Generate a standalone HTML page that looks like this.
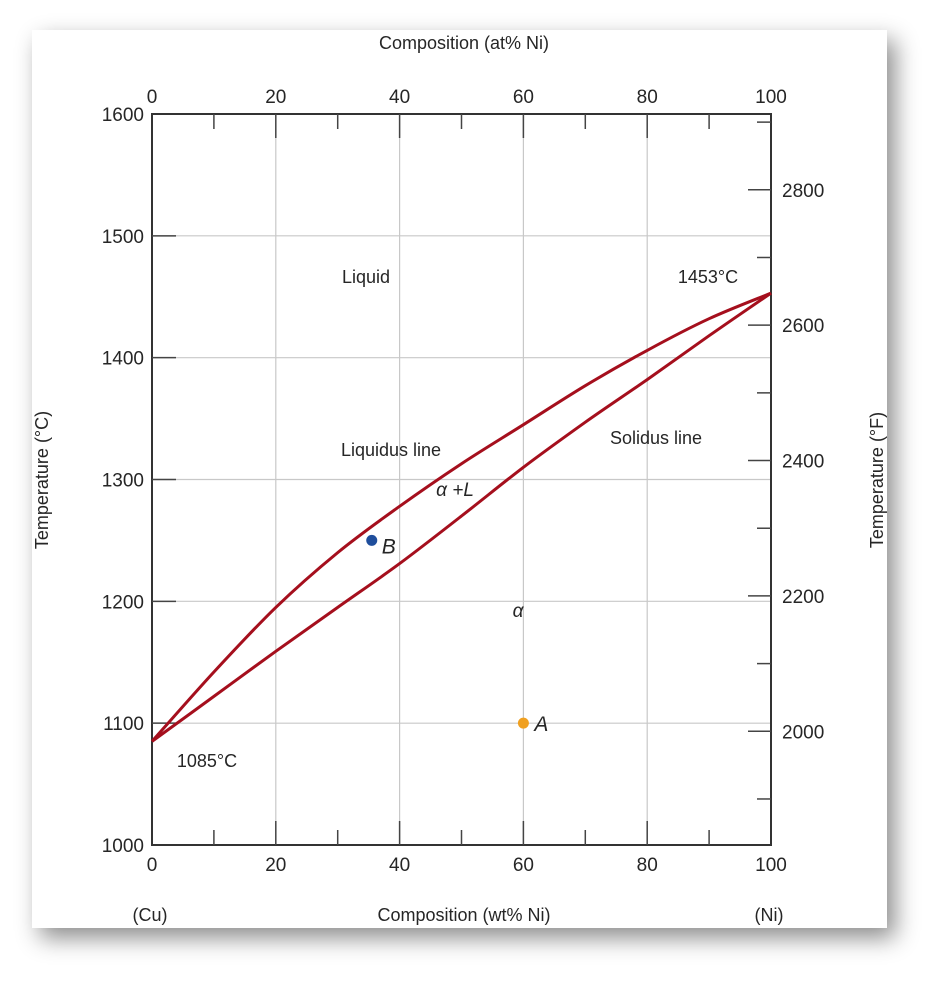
<!DOCTYPE html>
<html><head><meta charset="utf-8">
<style>
html,body{margin:0;padding:0;background:#fff;width:952px;height:994px;overflow:hidden}
#card{position:absolute;left:32px;top:30px;width:855px;height:898px;background:#fff;box-shadow:8px 10px 22px rgba(0,0,0,0.45)}
svg{position:absolute;left:0;top:0}
text{font-family:"Liberation Sans",sans-serif;fill:#262626}
</style></head><body>
<div id="card"></div>
<svg id="chart" width="952" height="994"></svg>
<script>
const xTicks=[0,20,40,60,80,100];
const xMinor=[10,30,50,70,90];
const yTicks=[1000,1100,1200,1300,1400,1500,1600];
const fTicks=[2000,2200,2400,2600,2800];
const fMinor=[1900,2100,2300,2500,2700,2900];
const liqX=[0,10,20,30,40,50,60,70,80,90,100];
const liqT=[1085,1142,1195,1240,1278,1313,1345,1377,1406,1432,1453];
const solX=[0,10,20,30,40,50,60,70,80,90,100];
const solT=[1085,1122,1159,1195,1231,1270,1310,1347,1382,1418,1453];
const pointB=[35.5,1250];
const pointA=[60,1100];
const NS='http://www.w3.org/2000/svg';
const svg=document.getElementById('chart');
const X0=152,X1=771,Y0=845,Y1=114;
const sx=v=>X0+(X1-X0)*v/100;
const sy=t=>Y0-(Y0-Y1)*(t-1000)/600;
const fy=f=>sy((f-32)*5/9);
function el(tag,attrs,parent){const e=document.createElementNS(NS,tag);for(const k in attrs)e.setAttribute(k,attrs[k]);(parent||svg).appendChild(e);return e;}
function txt(x,y,s,size,anchor,extra){const e=el('text',Object.assign({x:x,y:y,'font-size':size,'text-anchor':anchor||'middle'},extra||{}));e.textContent=s;return e;}
xTicks.slice(1,-1).forEach(v=>{const l=el('line',{x1:sx(v),x2:sx(v),y1:Y1,y2:Y0,stroke:'#c8c8c8','stroke-width':1.2});

});
yTicks.slice(1,-1).forEach(v=>{const l=el('line',{x1:X0,x2:X1,y1:sy(v),y2:sy(v),stroke:'#c8c8c8','stroke-width':1.2});

});
const fr=el('rect',{x:X0,y:Y1,width:X1-X0,height:Y0-Y1,fill:'none',stroke:'#333','stroke-width':2});


xTicks.forEach(v=>{
 if(v>0&&v<100){el('line',{x1:sx(v),x2:sx(v),y1:Y0,y2:Y0-24,stroke:'#444','stroke-width':1.5});el('line',{x1:sx(v),x2:sx(v),y1:Y1,y2:Y1+24,stroke:'#444','stroke-width':1.5});}
 const b=txt(sx(v),871,String(v),19);
 
 
 const t=txt(sx(v),103,String(v),19);
 
 
});
xMinor.forEach(v=>{el('line',{x1:sx(v),x2:sx(v),y1:Y0,y2:Y0-15,stroke:'#444','stroke-width':1.5});el('line',{x1:sx(v),x2:sx(v),y1:Y1,y2:Y1+15,stroke:'#444','stroke-width':1.5});});
yTicks.forEach(v=>{
 if(v>1000&&v<1600)el('line',{x1:X0,x2:X0+24,y1:sy(v),y2:sy(v),stroke:'#444','stroke-width':1.5});
 const t=txt(144,sy(v)+7,String(v),19,'end');
 
 
});
fTicks.forEach(v=>{
 el('line',{x1:X1,x2:X1-23,y1:fy(v),y2:fy(v),stroke:'#444','stroke-width':1.5});
 const t=txt(782,fy(v)+7,String(v),19,'start');
 
 
});
fMinor.forEach(v=>{el('line',{x1:X1,x2:X1-14,y1:fy(v),y2:fy(v),stroke:'#444','stroke-width':1.5});});
function curve(xs,ts,name){
 const P=xs.map((x,i)=>[sx(x),sy(ts[i])]);
 let d='M'+P[0][0].toFixed(1)+','+P[0][1].toFixed(1);
 for(let i=0;i<P.length-1;i++){
  const p0=P[Math.max(0,i-1)],p1=P[i],p2=P[i+1],p3=P[Math.min(P.length-1,i+2)];
  const c1=[p1[0]+(p2[0]-p0[0])/6,p1[1]+(p2[1]-p0[1])/6];
  const c2=[p2[0]-(p3[0]-p1[0])/6,p2[1]-(p3[1]-p1[1])/6];
  d+=' C'+c1[0].toFixed(1)+','+c1[1].toFixed(1)+' '+c2[0].toFixed(1)+','+c2[1].toFixed(1)+' '+p2[0].toFixed(1)+','+p2[1].toFixed(1);
 }
 const p=el('path',{d:d,fill:'none',stroke:'#a50f1d','stroke-width':3,'stroke-linejoin':'round'});
 
 
}
curve(liqX,liqT,'liquidus-line');
curve(solX,solT,'solidus-line');
const cb=el('circle',{cx:sx(pointB[0]),cy:sy(pointB[1]),r:5.5,fill:'#1f4e9c'});


const ca=el('circle',{cx:sx(pointA[0]),cy:sy(pointA[1]),r:5.5,fill:'#f0a020'});


const serif={'font-family':'Liberation Serif, serif','font-style':'italic'};
const lb=txt(sx(pointB[0])+10,sy(pointB[1])+13,'B',21,'start',serif);


const la=txt(sx(pointA[0])+11,sy(pointA[1])+8,'A',21,'start',serif);


const ann=[[366,283,'Liquid',18,'liquid-label'],[391,456,'Liquidus line',18,'liquidus-label'],[656,444,'Solidus line',18,'solidus-label'],[708,283,'1453°C',18,'ni-melt-label'],[207,767,'1085°C',18,'cu-melt-label'],[464,49,'Composition (at% Ni)',18,'top-axis-title'],[464,921,'Composition (wt% Ni)',18,'x-axis-title'],[150,921,'(Cu)',18,'cu-label'],[769,921,'(Ni)',18,'ni-label']];
ann.forEach(a=>{const t=txt(a[0],a[1],a[2],a[3]);
 
 });
const al=txt(455,496,'α +L',19,'middle',{'font-family':'Liberation Serif, serif','font-style':'italic'});


const aa=txt(518,617,'α',19,'middle',{'font-family':'Liberation Serif, serif','font-style':'italic'});


const yl=txt(0,0,'Temperature (°C)',18,'middle',{transform:'translate(48,480) rotate(-90)'});


const yr=txt(0,0,'Temperature (°F)',18,'middle',{transform:'translate(883,480) rotate(-90)'});


</script>
</body></html>
